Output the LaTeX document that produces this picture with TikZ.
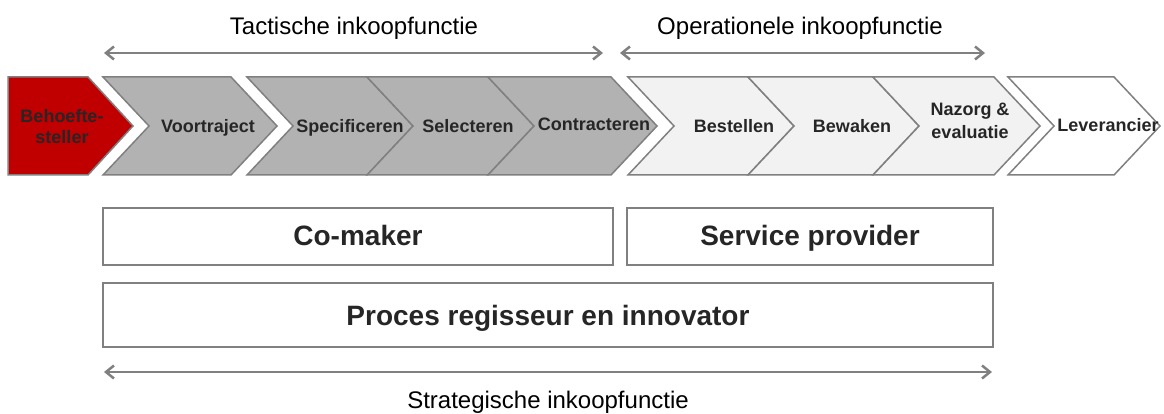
\documentclass[tikz,border=0pt]{standalone}
\usepackage{fontspec}
\setmainfont{Liberation Sans}
\usetikzlibrary{arrows.meta}
\definecolor{redfill}{HTML}{C00000}
\definecolor{darkfill}{HTML}{B2B2B2}
\definecolor{lightfill}{HTML}{F2F2F2}
\definecolor{edgegrey}{HTML}{808080}
\definecolor{txtgrey}{HTML}{262626}
\newcommand\mychev[3]{% x0, x1, fill
  \draw[chevshape, fill=#3] (#1,77) -- (#2,77) -- ({#2+46},126) -- (#2,175) -- (#1,175) -- ({#1+46},126) -- cycle;}
\tikzset{
  chevshape/.style={draw=edgegrey, line width=1.5pt, line join=miter},
  chevtext/.style={font=\bfseries\fontsize{18}{22}\selectfont, text=txtgrey, anchor=base, inner sep=0pt, align=center},
  headtext/.style={font=\fontsize{24}{28}\selectfont, text=black, anchor=base, inner sep=0pt},
  rolebox/.style={draw=edgegrey, line width=2pt, fill=white},
  roletext/.style={font=\bfseries\fontsize{28}{32}\selectfont, text=txtgrey, inner sep=0pt, anchor=base},
  span/.style={draw=edgegrey, line width=2.2pt, {Straight Barb[length=8pt,width=13pt,line width=2.5pt]}-{Straight Barb[length=8pt,width=13pt,line width=2.5pt]}}
}
\begin{document}
\begin{tikzpicture}[x=1pt,y=-1pt]
\useasboundingbox[fill=white] (0,0) rectangle (1164,414);
% header texts and spans
\node[headtext] (tact) at (354,35) {Tactische inkoopfunctie};
\node[headtext] (oper) at (800,35) {Operationele inkoopfunctie};
\coordinate (tl) at (104,53); \coordinate (tr) at (603,53);
\coordinate (ol) at (620,53); \coordinate (or) at (985,53);
\draw[span] (tl) -- (tr);
\draw[span] (ol) -- (or);
% red pentagon
\draw[chevshape, fill=redfill] (8,77) -- (88,77) -- (133,126) -- (88,175) -- (8,175) -- cycle;
% chevrons
\mychev{103}{231}{darkfill}
\mychev{247}{367}{darkfill}
\mychev{367}{488}{darkfill}
\mychev{488}{611}{darkfill}
\mychev{628}{748}{lightfill}
\mychev{748}{873}{lightfill}
\mychev{873}{994}{lightfill}
\mychev{1008}{1114}{white}
% chevron labels
\node[chevtext, anchor=center, font=\bfseries\fontsize{18}{21}\selectfont, text=black!85] (beh) at (62,127) {Behoefte-\\steller};
\node[chevtext] (voor) at (208,133) {Voortraject};
\node[chevtext] (spec) at (350,133) {Specificeren};
\node[chevtext] (sel) at (468,133) {Selecteren};
\node[chevtext] (con) at (594,131) {Contracteren};
\node[chevtext] (best) at (734,133) {Bestellen};
\node[chevtext] (bew) at (852,133) {Bewaken};
\node[chevtext, anchor=center, font=\bfseries\fontsize{18}{23}\selectfont] (naz) at (970,121) {Nazorg \&\\evaluatie};
\node[chevtext] (lev) at (1108,132) {Leverancier};
% role boxes
\draw[rolebox] (103,208) rectangle (613,265);
\node[roletext] (co) at (358,245) {Co-maker};
\draw[rolebox] (627,208) rectangle (993,265);
\node[roletext] (sp) at (810,245) {Service provider};
\draw[rolebox] (103,283) rectangle (993,347);
\node[roletext] (pr) at (548,325) {Proces regisseur en innovator};
% bottom span
\coordinate (sl) at (104,372); \coordinate (sr) at (992,372);
\draw[span] (sl) -- (sr);
\node[headtext] (strat) at (548,408) {Strategische inkoopfunctie};
\end{tikzpicture}
\end{document}
